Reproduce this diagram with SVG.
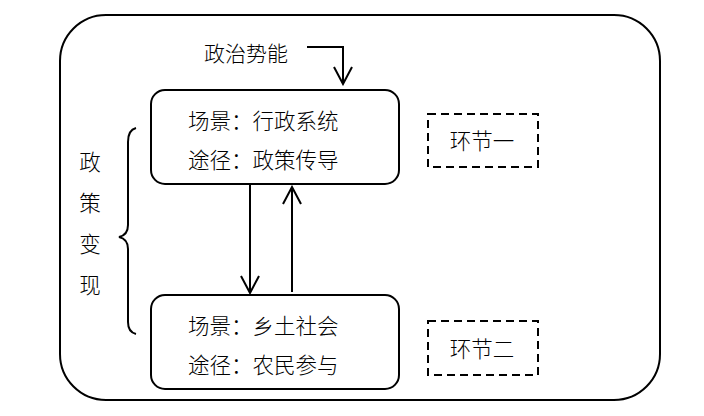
<svg xmlns="http://www.w3.org/2000/svg" width="704" height="416" viewBox="0 0 704 416">
<defs>
<style>
.t{font-family:"Noto Sans CJK SC","Liberation Serif",serif;font-size:21.5px;fill:#000;font-weight:300}
.box{fill:#fff;stroke:#000;stroke-width:2}
.dash{fill:none;stroke:#000;stroke-width:2;stroke-dasharray:8,5}
.ln{fill:none;stroke:#000;stroke-width:2}
</style>
<marker id="ah" viewBox="0 0 20 20" refX="18" refY="10" markerWidth="20" markerHeight="20" markerUnits="userSpaceOnUse" orient="auto">
<path d="M1,1 L18,10 L1,19" fill="none" stroke="#000" stroke-width="2"/>
</marker>
</defs>
<rect width="704" height="416" fill="#fff"/>
<g id="outer"><rect x="60" y="15" width="600" height="385" rx="46" ry="46" class="box"/></g>
<g id="politics"><text x="204" y="61" class="t" style="font-size:21px">政治势能</text></g>
<g id="node1">
<rect x="151" y="90" width="248" height="94" rx="14" ry="14" class="box"/>
<text x="188" y="129" class="t">场景：行政系统</text>
<text x="188" y="168" class="t">途径：政策传导</text>
</g>
<g id="node2">
<rect x="151" y="295" width="248" height="94" rx="14" ry="14" class="box"/>
<text x="188" y="334" class="t">场景：乡土社会</text>
<text x="188" y="373" class="t">途径：农民参与</text>
</g>
<g id="stage1">
<rect x="428" y="114" width="110" height="53" class="dash"/>
<text x="482" y="149" class="t" text-anchor="middle">环节一</text>
</g>
<g id="stage2">
<rect x="428" y="321" width="110" height="54" class="dash"/>
<text x="482" y="357" class="t" text-anchor="middle">环节二</text>
</g>
<g id="label">
<text class="t" text-anchor="middle" x="90" y="170">政</text>
<text class="t" text-anchor="middle" x="90" y="211">策</text>
<text class="t" text-anchor="middle" x="90" y="252">变</text>
<text class="t" text-anchor="middle" x="90" y="293">现</text>
<path d="M136,128 Q128,130 128,142 L128,225 Q128,235 119,237 Q128,239 128,249 L128,322 Q128,332 136,334" class="ln"/>
</g>
<g id="connectors">
<path d="M307,47 L343,47 L343,84" class="ln" marker-end="url(#ah)"/>
<path d="M250,185 L250,293" class="ln" marker-end="url(#ah)"/>
<path d="M292,292 L292,187" class="ln" marker-end="url(#ah)"/>
</g>
</svg>
